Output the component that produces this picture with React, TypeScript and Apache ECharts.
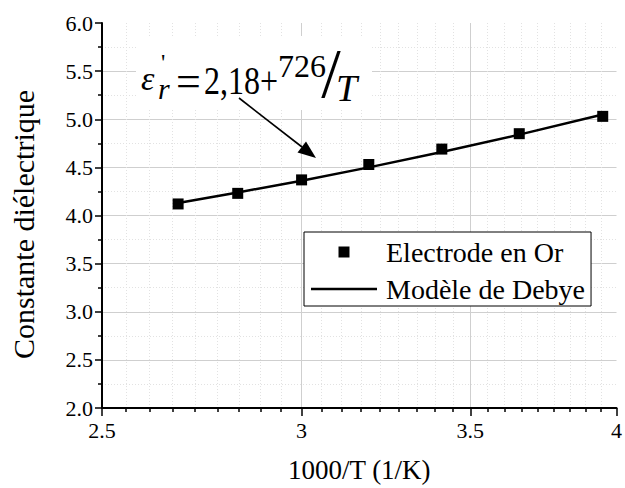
import React, { useEffect, useRef } from "react";
import * as echarts from "echarts";

// ---- data ----
const invTemperature = [2.68, 2.83, 3.0, 3.19, 3.41, 3.66, 3.95]; // 1000/T (1/K)
const goldElectrode = [4.12, 4.23, 4.37, 4.53, 4.69, 4.85, 5.03];
const debyeModel = [4.13, 4.24, 4.36, 4.5, 4.66, 4.84, 5.05];
const seriesNames = ["Electrode en Or", "Modèle de Debye"];
const xMajorTicks = [2.5, 3, 3.5, 4];
const xGridMajor = [3, 3.5];
const yTickDecimals = 1;

// minor ticks: 8 per major interval
const xMinorTicks: number[] = [];
for (let i = 0; i < xMajorTicks.length - 1; i++) {
  const a = xMajorTicks[i];
  const b = xMajorTicks[i + 1];
  for (let k = 1; k < 9; k++) xMinorTicks.push(Number((a + ((b - a) * k) / 9).toFixed(4)));
}

const FONT = "Liberation Serif";

export default function App() {
  const ref = useRef<HTMLDivElement>(null);
  useEffect(() => {
    document.body.style.margin = "0";
    const chart = echarts.init(ref.current!, null, { renderer: "svg" });
    const black = "#000";
    const option: any = {
      animation: false,
      backgroundColor: "#fff",
      textStyle: { fontFamily: FONT },
      grid: { left: 101, right: 2, top: 23, bottom: 77 },
      legend: {
        orient: "vertical",
        left: 304,
        top: 232,
        data: [
          { name: seriesNames[0], icon: "path://M0,0H10V10H0Z" },
          { name: seriesNames[1], icon: "path://M0,0H66V2.5H0Z" },
        ],
        itemWidth: 66,
        itemHeight: 11,
        itemGap: 9,
        padding: [6, 6, 3, 7],
        borderColor: black,
        borderWidth: 1,
        backgroundColor: "#fff",
        symbolKeepAspect: true,
        selectedMode: false,
        textStyle: { fontSize: 28, color: black, fontFamily: FONT, padding: [0, 0, 0, 4] },
      },
      xAxis: [
        {
          type: "log",
          logBase: 10,
          min: 2.5,
          max: 4,
          position: "bottom",
          name: "1000/T (1/K)",
          nameLocation: "middle",
          nameGap: 48,
          nameTextStyle: { fontSize: 27, color: black, fontFamily: FONT },
          axisLine: { show: true, onZero: false, lineStyle: { color: black, width: 2 } },
          axisTick: { show: true, customValues: xMajorTicks, length: 8, lineStyle: { color: black, width: 1.5 } },
          axisLabel: {
            show: true,
            customValues: xMajorTicks,
            formatter: (v: number) => String(Number(v.toFixed(2))),
            fontSize: 22,
            color: black,
            margin: 11,
            fontFamily: FONT,
          },
          splitLine: {
            show: true,
            customValues: xGridMajor,
            showMinLine: false,
            showMaxLine: false,
            lineStyle: { color: "#cfcfcf", width: 1 },
          },
        },
        {
          type: "log",
          logBase: 10,
          min: 2.5,
          max: 4,
          position: "bottom",
          axisLine: { show: false, onZero: false },
          axisLabel: { show: false },
          axisTick: { show: true, customValues: xMinorTicks, length: 4, lineStyle: { color: black, width: 1.5 } },
          splitLine: {
            show: true,
            customValues: xMinorTicks,
            lineStyle: { color: "#e2e2e2", width: 1, type: [1, 2] },
          },
        },
      ],
      yAxis: {
        type: "value",
        min: 2,
        max: 6,
        interval: 0.5,
        name: "Constante diélectrique",
        nameLocation: "middle",
        nameGap: 64,
        nameTextStyle: { fontSize: 30, color: black, fontFamily: FONT, padding: [0, 18, 0, 0] },
        axisLine: { show: true, lineStyle: { color: black, width: 2 } },
        axisTick: { show: true, length: 7, lineStyle: { color: black, width: 1.5 } },
        minorTick: { show: true, splitNumber: 2, length: 4, lineStyle: { color: black, width: 1.5 } },
        axisLabel: {
          formatter: (v: number) => v.toFixed(yTickDecimals),
          fontSize: 22,
          color: black,
          margin: 9,
          fontFamily: FONT,
        },
        splitLine: { show: true, showMinLine: false, showMaxLine: false, lineStyle: { color: "#cfcfcf", width: 1 } },
        minorSplitLine: { show: true, lineStyle: { color: "#e2e2e2", width: 1, type: [1, 2] } },
      },
      series: [
        {
          name: seriesNames[1],
          type: "line",
          xAxisIndex: 0,
          data: invTemperature.map((x, i) => [x, debyeModel[i]]),
          symbol: "none",
          showSymbol: false,
          lineStyle: { color: black, width: 2.5 },
          itemStyle: { color: black, opacity: 1 },
          z: 2,
        },
        {
          name: seriesNames[0],
          type: "scatter",
          xAxisIndex: 0,
          data: invTemperature.map((x, i) => [x, goldElectrode[i]]),
          symbol: "rect",
          symbolSize: 11,
          itemStyle: { color: black, opacity: 1 },
          z: 3,
        },
      ],
      graphic: [
        { type: "rect", shape: { x: 136, y: 36, width: 236, height: 74 }, style: { fill: "#fff" }, z: 5 },
        {
          type: "text", x: 141, y: 78, z: 6,
          style: { text: "ε", font: `italic 34px ${FONT}`, fill: black, align: "left", verticalAlign: "middle" },
        },
        {
          type: "text", x: 161, y: 62, z: 6,
          style: { text: "'", font: `24px ${FONT}`, fill: black, align: "left", verticalAlign: "middle" },
        },
        {
          type: "text", x: 158, y: 88, z: 6,
          style: { text: "r", font: `italic 30px ${FONT}`, fill: black, align: "left", verticalAlign: "middle" },
        },
        {
          type: "text", x: 176, y: 81, z: 6,
          style: { text: "=", font: `44px ${FONT}`, fill: black, align: "left", verticalAlign: "middle" },
        },
        {
          type: "text", x: 204, y: 81, scaleX: 0.8, z: 6,
          style: { text: "2,18+", font: `40px ${FONT}`, fill: black, align: "left", verticalAlign: "middle" },
        },
        {
          type: "text", x: 278, y: 66, z: 6,
          style: { text: "726", font: `32px ${FONT}`, fill: black, align: "left", verticalAlign: "middle" },
        },
        {
          type: "text", x: 331, y: 73, z: 6,
          style: { text: "/", font: `70px ${FONT}`, fill: black, align: "center", verticalAlign: "middle" },
        },
        {
          type: "text", x: 336, y: 88, z: 6,
          style: { text: "T", font: `italic 38px ${FONT}`, fill: black, align: "left", verticalAlign: "middle" },
        },
        {
          type: "line", z: 6,
          shape: { x1: 239, y1: 98, x2: 302, y2: 147 },
          style: { stroke: black, lineWidth: 1.6 },
        },
        {
          type: "polygon", z: 6,
          shape: { points: [[316, 158], [306, 141.5], [297.5, 152.5]] },
          style: { fill: black },
        },
      ],
    };
    chart.setOption(option);
    return () => chart.dispose();
  }, []);
  return <div ref={ref} style={{ width: 625, height: 488 }} />;
}
